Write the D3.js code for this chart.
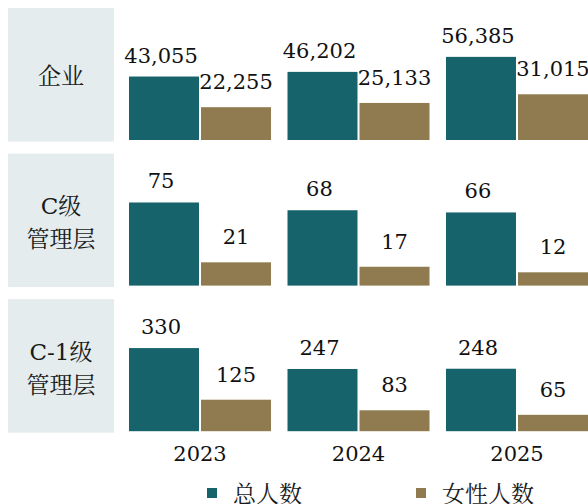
<!DOCTYPE html>
<html>
<head>
<meta charset="utf-8">
<script src="https://cdn.jsdelivr.net/npm/d3@7"></script>
<style>
  body { margin: 0; background: #fff; }
  svg { display: block; }
</style>
</head>
<body>
<div id="chart"></div>
<script>
const years = ["2023", "2024", "2025"];
const rowLabels = [["企业"], ["C级", "管理层"], ["C-1级", "管理层"]];
const seriesNames = ["总人数", "女性人数"];
const totalCounts = [
  [43055, 46202, 56385],
  [75, 68, 66],
  [330, 247, 248],
];
const femaleCounts = [
  [22255, 25133, 31015],
  [21, 17, 12],
  [125, 83, 65],
];

const width = 588;
const height = 504;
const colors = d3.scaleOrdinal().domain(seriesNames).range(["#17636c", "#8f7b4f"]);
const numFont = "'DejaVu Serif', 'Noto Sans CJK SC', serif";
const cjkFont = "'DejaVu Serif', 'Noto Serif CJK SC', 'Noto Sans CJK SC', serif";

const svg = d3
  .select("#chart")
  .append("svg")
  .attr("width", width)
  .attr("height", height);

const x = d3.scaleBand().domain(years).range([129, 588]).paddingInner(0.104);
const xSeries = d3
  .scaleBand()
  .domain(seriesNames)
  .range([0, x.bandwidth()])
  .paddingInner(0.028);

const rowStep = 145.6;
const boxHeight = 133.5;

rowLabels.forEach((label, i) => {
  const top = 8 + i * rowStep;
  const base = top + 132;
  const data = years.map((yr, j) => ({
    year: yr,
    values: [
      { name: seriesNames[0], value: totalCounts[i][j] },
      { name: seriesNames[1], value: femaleCounts[i][j] },
    ],
  }));

  const y = d3
    .scaleLinear()
    .domain([0, d3.max(totalCounts[i]) * 1.6])
    .range([base, base - 133]);

  const row = svg.append("g").attr("class", "row");

  row
    .append("rect")
    .attr("x", 8)
    .attr("y", top)
    .attr("width", 106)
    .attr("height", boxHeight)
    .attr("fill", "#e4ecee");

  const center = top + boxHeight / 2;
  const offsets = label.length === 1 ? [1] : [-14, 19];
  row
    .selectAll("text.row-label")
    .data(label)
    .enter()
    .append("text")
    .attr("class", "row-label")
    .attr("x", 61)
    .attr("y", (d, k) => center + offsets[k])
    .attr("text-anchor", "middle")
    .attr("dominant-baseline", "central")
    .attr("font-family", cjkFont)
    .attr("font-size", 23)
    .attr("fill", "#1a1a1a")
    .text((d) => d);

  const groups = row
    .selectAll("g.group")
    .data(data)
    .enter()
    .append("g")
    .attr("class", "group")
    .attr("transform", (d) => `translate(${x(d.year)},0)`);

  groups
    .selectAll("rect")
    .data((d) => d.values)
    .enter()
    .append("rect")
    .attr("x", (d) => xSeries(d.name))
    .attr("y", (d) => y(d.value))
    .attr("width", xSeries.bandwidth())
    .attr("height", (d) => base - y(d.value))
    .attr("fill", (d) => colors(d.name));

  groups
    .selectAll("text")
    .data((d) => d.values)
    .enter()
    .append("text")
    .attr("x", (d, k) => xSeries(d.name) + xSeries.bandwidth() / 2 + (k === 0 ? -3 : 0))
    .attr("y", (d, k) => y(d.value) - (k === 0 ? 14 : 18))
    .attr("text-anchor", "middle")
    .attr("font-family", numFont)
    .attr("font-size", 21)
    .attr("fill", "#111")
    .text((d) => d3.format(",")(d.value));
});

svg
  .append("g")
  .selectAll("text")
  .data(years)
  .enter()
  .append("text")
  .attr("x", (d) => x(d) + x.bandwidth() / 2)
  .attr("y", 461)
  .attr("text-anchor", "middle")
  .attr("font-family", numFont)
  .attr("font-size", 21)
  .attr("fill", "#111")
  .text((d) => d);

const legendX = [207, 416];
const legend = svg
  .append("g")
  .selectAll("g")
  .data(seriesNames)
  .enter()
  .append("g")
  .attr("transform", (d, i) => `translate(${legendX[i]},0)`);

legend
  .append("rect")
  .attr("x", 0)
  .attr("y", 488)
  .attr("width", 10)
  .attr("height", 10)
  .attr("fill", (d) => colors(d));

legend
  .append("text")
  .attr("x", 26)
  .attr("y", 502)
  .attr("font-family", cjkFont)
  .attr("font-size", 23)
  .attr("fill", "#1a1a1a")
  .text((d) => d);
</script>
</body>
</html>
